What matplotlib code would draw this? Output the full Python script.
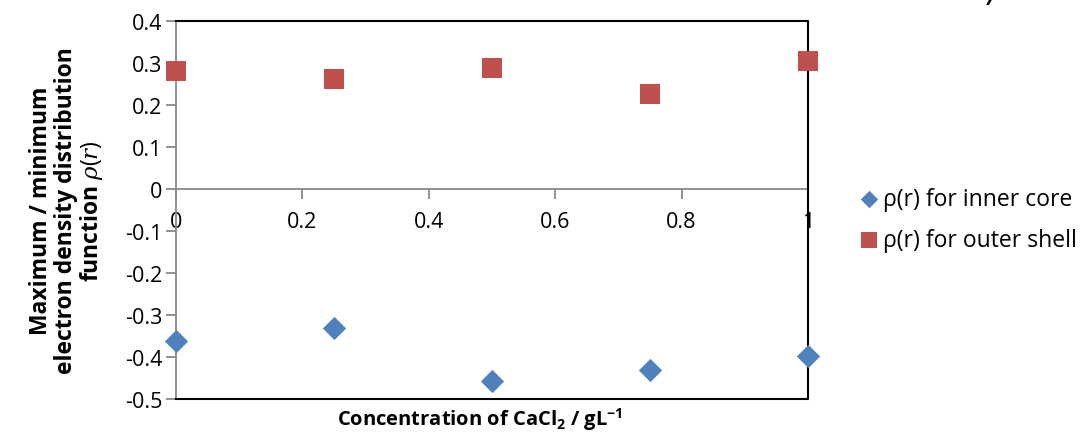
import matplotlib
matplotlib.use("Agg")
import matplotlib.pyplot as plt

# データ
conc = [0, 0.25, 0.5, 0.75, 1.0]
inner_core = [-0.362, -0.331, -0.457, -0.431, -0.398]
outer_shell = [0.281, 0.262, 0.288, 0.226, 0.305]
x_ticks = [0, 0.2, 0.4, 0.6, 0.8, 1.0]
x_tick_labels = ["0", "0.2", "0.4", "0.6", "0.8", "1"]
y_ticks = [-0.5, -0.4, -0.3, -0.2, -0.1, 0, 0.1, 0.2, 0.3, 0.4]
y_tick_labels = ["-0.5", "-0.4", "-0.3", "-0.2", "-0.1", "0", "0.1", "0.2", "0.3", "0.4"]

plt.rcParams["font.family"] = ["Open Sans", "DejaVu Sans"]
plt.rcParams["mathtext.fontset"] = "custom"
plt.rcParams["mathtext.rm"] = "Open Sans"
plt.rcParams["mathtext.it"] = "DejaVu Serif:italic"
plt.rcParams["mathtext.bf"] = "Open Sans:bold"

fig = plt.figure(figsize=(10.8, 4.35), dpi=100)
ax = fig.add_axes([176 / 1080, 35 / 435, 632 / 1080, 378 / 435])

ax.scatter(conc, inner_core, marker="D", s=140, color="#4F81BD",
           label="ρ(r) for inner core", clip_on=False, zorder=5, linewidths=0)
ax.scatter(conc, outer_shell, marker="s", s=220, color="#C0504D",
           label="ρ(r) for outer shell", clip_on=False, zorder=5, linewidths=0)

ax.set_xlim(0, 1)
ax.set_ylim(-0.5, 0.4)

# 軸
for s in ["top", "right"]:
    ax.spines[s].set_visible(False)
ax.spines["left"].set_color("#888888")
ax.spines["left"].set_linewidth(1.3)
ax.spines["bottom"].set_position(("data", 0))
ax.spines["bottom"].set_color("#888888")
ax.spines["bottom"].set_linewidth(1.3)

# 外枠 (黒)
ax.plot([0, 1, 1, 0], [1, 1, 0, 0], transform=ax.transAxes, color="black",
        lw=1.5, clip_on=False, zorder=3)

ax.set_xticks(x_ticks)
ax.set_xticklabels(x_tick_labels)
ax.set_yticks(y_ticks)
ax.set_yticklabels(y_tick_labels)
ax.tick_params(axis="both", direction="out", length=7, width=1.3,
               color="#888888", labelsize=15.5)
ax.tick_params(axis="x", pad=9)
ax.tick_params(axis="y", pad=3)

ax.set_ylabel("Maximum / minimum\nelectron density distribution\nfunction $\\rho(r)$",
              fontsize=16.5, fontweight="bold", linespacing=1.02)
ax.yaxis.set_label_coords(-0.112, 0.5)
ax.set_xlabel("Concentration of CaCl$_\\mathbf{2}$ / gL$^\\mathbf{-1}$",
              fontsize=14.5, fontweight="bold", labelpad=0)
ax.xaxis.set_label_coords(0.481, -0.015)

leg = ax.legend(loc="upper left", bbox_to_anchor=(1.06, 0.585), frameon=False,
                fontsize=16.5, handletextpad=0.0, labelspacing=0.75,
                borderaxespad=0, handlelength=1.2, markerscale=0.75)

fig.text(991 / 1080, 1.0, "/", fontsize=14, fontstyle="italic",
         fontweight="bold", va="center", ha="center")

fig.savefig("out.png", dpi=100)
